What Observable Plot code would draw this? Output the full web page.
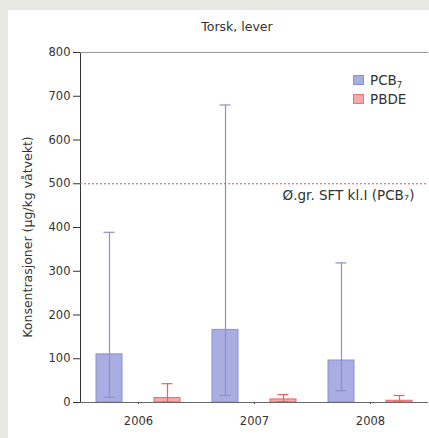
<!DOCTYPE html>
<html>
<head>
<meta charset="utf-8">
<script src="https://cdn.jsdelivr.net/npm/d3@7"></script>
<script src="https://cdn.jsdelivr.net/npm/@observablehq/plot@0.6"></script>
<style>
  html, body { margin: 0; padding: 0; background: #e8e8e3; width: 429px; height: 438px; overflow: hidden; font-family: "DejaVu Sans", sans-serif; }
  #panel { position: absolute; left: 8px; top: 10px; width: 421px; height: 428px; background: #fff; }
  #title { position: absolute; left: 0; width: 458px; top: 9px; line-height: 16px; text-align: center; font-size: 12.5px; color: #333; }
  #ylabel { position: absolute; left: 20px; top: 227px; width: 300px; margin-left: -150px; line-height: 16px; margin-top: -8px; text-align: center; font-size: 12.5px; color: #333; transform: rotate(-90deg); white-space: nowrap; }
  .leg { position: absolute; font-size: 13.5px; line-height: 16px; color: #333; }
  .sw { position: absolute; width: 11px; height: 10px; }
  svg { position: absolute; left: 0; top: 0; }
</style>
</head>
<body>
<div id="panel">
  <div id="chart"></div>
  <div id="title">Torsk, lever</div>
  <div id="ylabel">Konsentrasjoner (µg/kg våtvekt)</div>
  <div class="sw" style="left:345px;top:65px;background:#a8aee2;border:1px solid #8a90cc;box-sizing:border-box"></div>
  <div class="leg" style="left:362px;top:62px">PCB<sub style="font-size:8.5px;vertical-align:-3px">7</sub></div>
  <div class="sw" style="left:345px;top:84px;background:#f8aaaa;border:1px solid #f07070;box-sizing:border-box"></div>
  <div class="leg" style="left:362px;top:81px">PBDE</div>
</div>
<script>
const years = [2006, 2007, 2008];
const seriesNames = ["PCB7", "PBDE"];
const pcbMean = [110, 166, 96];
const pcbLow = [12, 16, 27];
const pcbHigh = [389, 680, 319];
const pbdeMean = [10, 7, 4];
const pbdeLow = [1, 2, 1];
const pbdeHigh = [43, 18, 16];
const yTicks = [0, 100, 200, 300, 400, 500, 600, 700, 800];
const limitValue = 500;
const limitLabel = "Ø.gr. SFT kl.I (PCB₇)";

const data = [];
years.forEach((yr, i) => {
  data.push({year: yr, series: "PCB7", mean: pcbMean[i], low: pcbLow[i], high: pcbHigh[i]});
  data.push({year: yr, series: "PBDE", mean: pbdeMean[i], low: pbdeLow[i], high: pbdeHigh[i]});
});

const fillColors = {PCB7: "#a8aee2", PBDE: "#f8aaaa"};
const strokeColors = {PCB7: "#8a90cc", PBDE: "#f06060"};

const chart = Plot.plot({
  width: 421,
  height: 428,
  marginTop: 42,
  marginLeft: 71,
  marginRight: 0,
  marginBottom: 36,
  style: {fontFamily: "DejaVu Sans, sans-serif", fontSize: "11.5px", color: "#333", background: "transparent"},
  facet: {data, x: "year"},
  fx: {domain: years, padding: 0, axis: "bottom", label: null, tickSize: 2, tickPadding: 12, tickFormat: d => String(d)},
  x: {domain: seriesNames, paddingInner: 0.56, paddingOuter: 0.28, axis: null},
  y: {domain: [0, 800], ticks: yTicks, tickSize: 7, tickPadding: 3, line: true, label: null},
  marks: [
    Plot.ruleY([800], {stroke: "#999"}),
    Plot.barY(data, {x: "series", y: "mean", fill: d => fillColors[d.series], stroke: d => strokeColors[d.series], strokeWidth: 1}),
    Plot.ruleX(data, {x: "series", y1: "low", y2: "high", stroke: d => strokeColors[d.series], strokeWidth: 1.2}),
    Plot.tickY(data, {x: "series", y: "high", stroke: d => strokeColors[d.series], strokeWidth: 1.2, insetLeft: 7.5, insetRight: 7.5}),
    Plot.tickY(data, {x: "series", y: "low", stroke: d => strokeColors[d.series], strokeWidth: 1.2, insetLeft: 7.5, insetRight: 7.5}),
    Plot.ruleY([limitValue], {stroke: "#e8506a", strokeDasharray: "2,2", strokeWidth: 1}),
    Plot.ruleY([0], {stroke: "#666"}),
    Plot.text(data, {filter: d => d.year === 2008 && d.series === "PCB7", y: () => limitValue, text: () => limitLabel,
      frameAnchor: "right", textAnchor: "end", dx: -14, dy: 12, fontSize: 13.5, fill: "#333"})
  ]
});
document.getElementById("chart").appendChild(chart);
</script>
</body>
</html>
